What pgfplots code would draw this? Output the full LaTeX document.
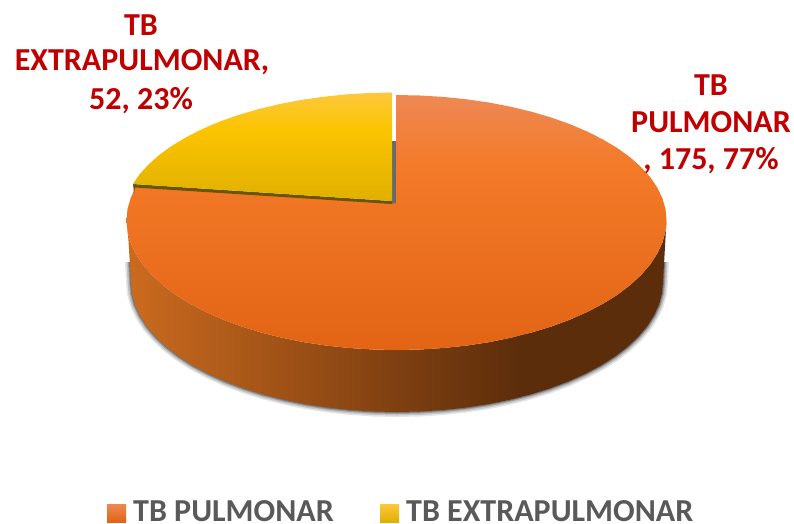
\documentclass[border=0pt]{standalone}
\usepackage{pgfplots}
\usepackage{pgfplotstable}
\pgfplotsset{compat=1.18}
\usepackage{fontspec}
\setmainfont{Carlito}
\definecolor{lab}{HTML}{C00000}
\definecolor{leg}{HTML}{595959}
\definecolor{wallA}{RGB}{204,107,31}
\definecolor{wallB}{RGB}{127,64,17}
\definecolor{wallC}{RGB}{92,45,11}
\definecolor{gapgrey}{RGB}{105,105,105}
\definecolor{orT}{RGB}{238,136,84}
\definecolor{orM}{RGB}{243,122,40}
\definecolor{orB}{RGB}{226,100,20}
\definecolor{yeT}{RGB}{252,200,60}
\definecolor{yeM}{RGB}{251,196,0}
\definecolor{yeB}{RGB}{224,176,0}
\definecolor{yeD}{RGB}{105,85,0}
\pgfdeclareverticalshading{orgrad}{100bp}{color(0bp)=(orB); color(25bp)=(orB); color(61bp)=(orM); color(75bp)=(orT); color(100bp)=(orT)}
\pgfdeclareverticalshading{yegrad}{100bp}{color(0bp)=(yeB); color(25bp)=(yeB); color(58bp)=(yeM); color(75bp)=(yeT); color(100bp)=(yeT)}
\pgfplotstableread{
x y
130 262
131 282
132 293.3
135 304.6
140.1 315.6
147 326.5
155.9 336.9
166.6 347
179.1 356.6
193.2 365.6
208.9 373.9
226 381.6
244.4 388.5
264 394.6
284.6 399.8
306 404.2
328.2 407.6
350.8 410
373.8 411.5
397 412
420.2 411.5
443.2 410
465.8 407.6
488 404.2
509.4 399.8
530 394.6
549.6 388.5
568 381.6
585.1 373.9
600.8 365.6
614.9 356.6
627.4 347
638.1 336.9
647 326.5
653.9 315.6
659 304.6
662 293.3
663 282
664 262
}\rim
\begin{document}
\begin{tikzpicture}[
  lbl/.style={font=\fontsize{32}{34}\selectfont\bfseries,text=lab,inner sep=0pt,anchor=center},
  lg/.style={font=\fontsize{32}{34}\selectfont\bfseries,text=leg,inner sep=0pt,anchor=base west}]
\begin{axis}[scale only axis,width=794pt,height=523pt,xmin=0,xmax=794,ymin=0,ymax=523,y dir=reverse,hide axis,clip=false]
% invisible frame: keeps the page the size of the axis
\addplot[draw=none] coordinates {(0,0)(794,523)};
% shadow under the pie wall
\addplot[draw=black,line width=10pt,opacity=0.10,line join=round] table {\rim};
\addplot[draw=black,line width=7pt,opacity=0.14,line join=round] table {\rim};
\addplot[draw=black,line width=4pt,opacity=0.20,line join=round] table {\rim};
\addplot[draw=black,line width=2pt,opacity=0.25,line join=round] table {\rim};
% wall, dark right part
\addplot[draw=none,fill=wallC] coordinates {
(666.5,220)(665.5,231.3)(662.4,242.6)(657.3,253.6)(650.2,264.5)(641.2,274.9)(630.3,285)(617.7,294.6)(603.3,303.6)(587.4,311.9)(570.1,319.6)(551.4,326.5)(531.5,332.6)(520,335)
(520,397)(530,394.6)(549.6,388.5)(568,381.6)(585.1,373.9)(600.8,365.6)(614.9,356.6)(627.4,347)(638.1,336.9)(647,326.5)(653.9,315.6)(659,304.6)(662,293.3)(663,282)} --cycle;
% wall, middle part
\addplot[draw=none,left color=wallB,right color=wallC] coordinates {
(396,350)(420,349.5)(443.4,348)(466.4,345.6)(488.8,342.2)(510.6,337.8)(521,335)
(521,397)(509.4,399.8)(488,404.2)(465.8,407.6)(443.2,410)(420.2,411.5)(396,412)} --cycle;
% wall, left part
\addplot[draw=none,left color=wallA,right color=wallB] coordinates {
(126.5,220)(127.5,231.3)(130.6,242.6)(135.7,253.6)(142.8,264.5)(151.8,274.9)(162.7,285)(175.3,294.6)(189.7,303.6)(205.6,311.9)(222.9,319.6)(241.6,326.5)(261.5,332.6)(282.4,337.8)(304.2,342.2)(326.6,345.6)(349.6,348)(373,349.5)(397,350)
(397,412)(373.8,411.5)(350.8,410)(328.2,407.6)(306,404.2)(284.6,399.8)(264,394.6)(244.4,388.5)(226,381.6)(208.9,373.9)(193.2,365.6)(179.1,356.6)(166.6,347)(155.9,336.9)(147,326.5)(140.1,315.6)(135,304.6)(132,293.3)(131,282)(128.5,241)} --cycle;
% grey shadow in the gap behind the orange slice
\addplot[draw=none,fill=gapgrey] coordinates {(391,141)(397,141)(397,204)(391,204)} --cycle;
% orange slice (175, 77%)
\addplot[draw=none,shading=orgrad] coordinates {
(396,203.5)(396,95)(420,95.5)(443.4,96.9)(466.4,99.3)(488.8,102.5)(510.6,106.7)(531.5,111.7)(551.4,117.6)(570.1,124.2)(587.4,131.6)(603.3,139.7)(617.7,148.3)(630.3,157.5)(641.2,167.2)(650.2,177.2)(657.3,187.6)(662.4,198.3)(665.5,209.1)(666.5,220)
(665.5,231.3)(662.4,242.6)(657.3,253.6)(650.2,264.5)(641.2,274.9)(630.3,285)(617.7,294.6)(603.3,303.6)(587.4,311.9)(570.1,319.6)(551.4,326.5)(531.5,332.6)(510.6,337.8)(488.8,342.2)(466.4,345.6)(443.4,348)(420,349.5)(396.5,350)
(373,349.5)(349.6,348)(326.6,345.6)(304.2,342.2)(282.4,337.8)(261.5,332.6)(241.6,326.5)(222.9,319.6)(205.6,311.9)(189.7,303.6)(175.3,294.6)(162.7,285)(151.8,274.9)(142.8,264.5)(135.7,253.6)(130.6,242.6)(127.5,231.3)(126.5,220)
(127.5,209.1)(130.6,198.3)(135.5,187)} --cycle;
% dark edge of the yellow slice
\addplot[draw=none,fill=yeD] coordinates {(133,184)(392,201)(392,204)(135,187.5)(134,193)} --cycle;
% yellow slice (52, 23%)
\addplot[draw=none,shading=yegrad] coordinates {
(392,201)(392,92.5)(369.5,93)(346.1,94.4)(323.1,96.8)(300.7,100)(278.9,104.2)(258,109.2)(238.1,115.1)(219.4,121.7)(202.1,129.1)(186.2,137.2)(171.8,145.8)(159.2,155)(148.3,164.7)(139.3,174.7)(133,184)} --cycle;
% legend swatches
\addplot[draw=none,top color=orT,bottom color=orB] coordinates {(107,504)(126,504)(126,522)(107,522)} --cycle;
\addplot[draw=none,top color=yeT,middle color=yeM,bottom color=yeB] coordinates {(380,504)(399,504)(399,522)(380,522)} --cycle;
% labels
\node[lbl] at (axis cs:141,25) {TB};
\node[lbl] at (axis cs:142,62) {EXTRAPULMONAR,};
\node[lbl] at (axis cs:141,101) {52, 23\%};
\node[lbl] at (axis cs:711,85) {TB};
\node[lbl] at (axis cs:711,122) {PULMONAR};
\node[lbl] at (axis cs:711,161) {, 175, 77\%};
\node[lg] at (axis cs:133,521) {TB PULMONAR};
\node[lg] at (axis cs:406,521) {TB EXTRAPULMONAR};
\end{axis}
\end{tikzpicture}
\end{document}
